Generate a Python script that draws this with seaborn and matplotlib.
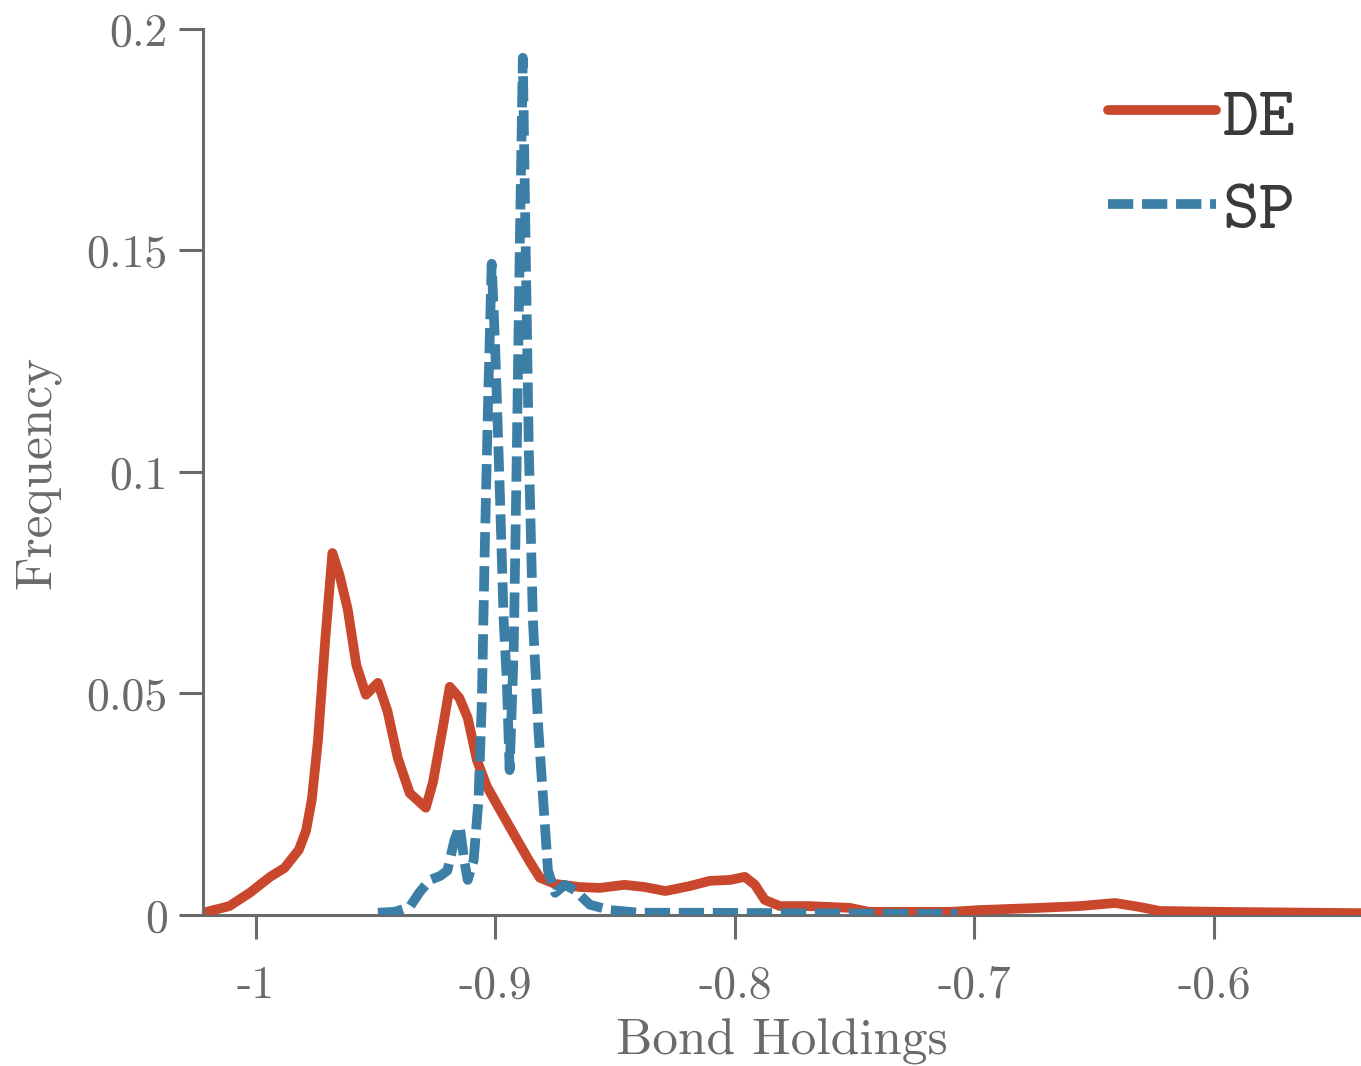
import matplotlib
matplotlib.use("Agg")
import matplotlib.pyplot as plt
import seaborn as sns
import pandas as pd

# Bond holdings grid and estimated frequency, decentralized economy (DE)
de_x = [-1.022, -1.011, -1.0025, -0.994, -0.988, -0.982, -0.979, -0.9766, -0.974,
        -0.971, -0.968, -0.965, -0.9616, -0.958, -0.954, -0.949, -0.945, -0.9407,
        -0.9357, -0.929, -0.926, -0.922, -0.919, -0.915, -0.9115, -0.9077, -0.9035,
        -0.898, -0.892, -0.8856, -0.8814, -0.875, -0.8647, -0.8564, -0.846, -0.8376,
        -0.829, -0.819, -0.8104, -0.802, -0.7958, -0.7916, -0.7875, -0.7812, -0.769,
        -0.752, -0.744, -0.710, -0.698, -0.673, -0.656, -0.6413, -0.631, -0.6225,
        -0.5975, -0.5386]
de_y = [0.0005, 0.002, 0.005, 0.0086, 0.0106, 0.0147, 0.019, 0.026, 0.0395,
        0.062, 0.0817, 0.0767, 0.069, 0.0564, 0.0497, 0.0524, 0.046, 0.0354,
        0.0275, 0.0242, 0.030, 0.042, 0.0515, 0.049, 0.0445, 0.035, 0.029,
        0.0237, 0.018, 0.012, 0.0084, 0.007, 0.0063, 0.0061, 0.0068, 0.0063,
        0.0054, 0.0065, 0.0077, 0.0079, 0.0086, 0.0068, 0.0034, 0.002, 0.002,
        0.0016, 0.0007, 0.0007, 0.0011, 0.0016, 0.002, 0.0027, 0.0018, 0.0009,
        0.0007, 0.0004]

# Social planner (SP)
sp_x = [-0.949, -0.942, -0.9357, -0.9315, -0.9273, -0.923, -0.920, -0.917, -0.9148,
        -0.913, -0.9115, -0.909, -0.907, -0.9056, -0.9044, -0.903, -0.9015, -0.900,
        -0.898, -0.8965, -0.8952, -0.894, -0.8923, -0.891, -0.8898, -0.8885, -0.8873,
        -0.886, -0.8843, -0.882, -0.880, -0.878, -0.875, -0.871, -0.8668, -0.8605,
        -0.852, -0.8397, -0.8146, -0.707]
sp_y = [0.0005, 0.0007, 0.0018, 0.0052, 0.0079, 0.0088, 0.010, 0.017, 0.020,
        0.0124, 0.0079, 0.0124, 0.026, 0.0485, 0.0824, 0.116, 0.147, 0.1275,
        0.0937, 0.0666, 0.053, 0.0327, 0.060, 0.105, 0.150, 0.1935, 0.150,
        0.105, 0.0666, 0.0418, 0.026, 0.010, 0.005, 0.0068, 0.0056, 0.0023,
        0.0011, 0.0005, 0.0005, 0.0002]

x_ticks = [-1.0, -0.9, -0.8, -0.7, -0.6]
x_tick_labels = ["-1", "-0.9", "-0.8", "-0.7", "-0.6"]
y_ticks = [0, 0.05, 0.1, 0.15, 0.2]
y_tick_labels = ["0", "0.05", "0.1", "0.15", "0.2"]

RED = "#C9472C"
BLUE = "#3B7EA6"
GRAY = "#6a6a6a"

sns.set_style("ticks")
plt.rcParams["axes.unicode_minus"] = False
plt.rcParams["font.family"] = ["cmr10", "DejaVu Serif"]

fig = plt.figure(figsize=(13.61, 10.66), dpi=100)
ax = fig.add_axes([0.149, 0.1417, 0.851, 0.8311])

de = pd.DataFrame({"x": de_x, "y": de_y})
sp = pd.DataFrame({"x": sp_x, "y": sp_y})

sns.lineplot(data=de, x="x", y="y", ax=ax, color=RED, lw=7,
             estimator=None, sort=False, label="DE")
sns.lineplot(data=sp, x="x", y="y", ax=ax, color=BLUE, lw=7,
             estimator=None, sort=False, label="SP", dashes=False)
ax.lines[1].set_dashes((2.6, 0.9))

ax.set_xlim(-1.0221, -0.5386)
ax.set_ylim(0, 0.2)
ax.set_xticks(x_ticks)
ax.set_xticklabels(x_tick_labels)
ax.set_yticks(y_ticks)
ax.set_yticklabels(y_tick_labels)

for side in ["top", "right"]:
    ax.spines[side].set_visible(False)
for side in ["left", "bottom"]:
    ax.spines[side].set_color(GRAY)
    ax.spines[side].set_linewidth(2.2)
ax.spines["bottom"].set_zorder(0)

ax.tick_params(axis="both", direction="out", length=17, width=2.2,
               color=GRAY, labelcolor=GRAY, labelsize=33, pad=8)
ax.tick_params(axis="x", pad=19)

ax.set_xlabel("Bond Holdings", fontsize=37, color=GRAY, labelpad=9)
ax.set_ylabel("Frequency", fontsize=37, color=GRAY, labelpad=19)

leg = ax.legend(loc="upper left", bbox_to_anchor=(1108 / 1361, 1 - 86 / 1066),
                bbox_transform=fig.transFigure, frameon=False,
                prop={"family": "cmtt10", "size": 50},
                handlelength=1.55, handletextpad=0.1, labelspacing=0.42,
                borderpad=0, borderaxespad=0)
for t in leg.get_texts():
    t.set_color("#3a3a3a")

fig.savefig("out.png", dpi=100)
